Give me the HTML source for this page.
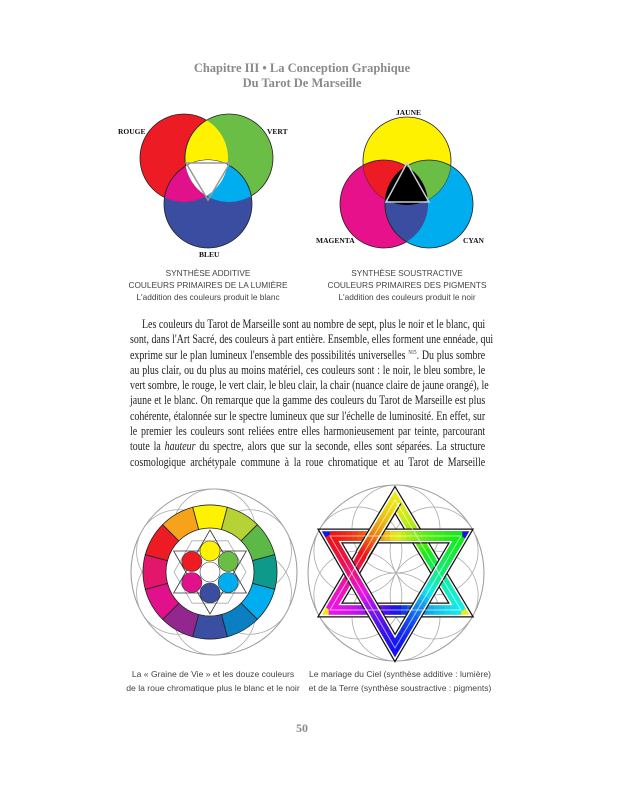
<!DOCTYPE html>
<html><head><meta charset="utf-8">
<style>
html,body{margin:0;padding:0;background:#fff;}
body{width:622px;height:800px;position:relative;overflow:hidden;font-family:"Liberation Serif",serif;}
.t{position:absolute;white-space:nowrap;}
.title{left:0;width:604px;text-align:center;color:#8a8a8a;font-weight:bold;font-size:12.5px;}
.lab{font-family:"Liberation Serif",serif;font-weight:bold;font-size:7.5px;color:#111;}
.cap{font-family:"Liberation Sans",sans-serif;font-size:8.3px;color:#444;text-align:center;width:200px;}
.body{position:absolute;left:130px;width:444px;font-size:12.4px;color:#222;transform:scaleX(0.8);transform-origin:0 0;}
.body div{height:15.3px;line-height:15.3px;text-align:justify;text-align-last:justify;white-space:nowrap;}
sup{line-height:0;font-size:6px;vertical-align:5px;}
</style></head><body>
<div class="t title" style="top:61px">Chapitre III • La Conception Graphique</div>
<div class="t title" style="top:76px">Du Tarot De Marseille</div>

<svg width="622" height="800" style="position:absolute;left:0;top:0">
<defs>
<clipPath id="cR"><circle cx="184" cy="158" r="44"/></clipPath>
<clipPath id="cG"><circle cx="229" cy="158" r="44"/></clipPath>
<clipPath id="cB"><circle cx="208" cy="204" r="44"/></clipPath>
<clipPath id="cY"><circle cx="407" cy="161" r="44"/></clipPath>
<clipPath id="cM"><circle cx="384" cy="204" r="44"/></clipPath>
<clipPath id="cC"><circle cx="429" cy="204" r="44"/></clipPath>
</defs>
<g stroke="#222" stroke-width="0.8">
<circle cx="184" cy="158" r="44" fill="#ed1c24"/>
<circle cx="229" cy="158" r="44" fill="#6abd45"/>
<circle cx="208" cy="204" r="44" fill="#3a4da0"/>
</g>
<circle cx="229" cy="158" r="44" fill="#fff200" clip-path="url(#cR)" stroke="#222" stroke-width="0.8"/>
<circle cx="208" cy="204" r="44" fill="#e0118a" clip-path="url(#cR)" stroke="#222" stroke-width="0.8"/>
<circle cx="208" cy="204" r="44" fill="#00aeef" clip-path="url(#cG)" stroke="#222" stroke-width="0.8"/>
<g clip-path="url(#cR)"><circle cx="208" cy="204" r="44" fill="#fff" clip-path="url(#cG)"/></g>
<polygon points="186,163 230,163 208,200" fill="none" stroke="#999" stroke-width="1.5"/>
<g stroke="#222" stroke-width="0.8">
<circle cx="384" cy="204" r="44" fill="#e8118c"/>
<circle cx="429" cy="204" r="44" fill="#00aeef"/>
<circle cx="407" cy="161" r="44" fill="#fff200"/>
</g>
<circle cx="384" cy="204" r="44" fill="#ed1c24" clip-path="url(#cY)" stroke="#222" stroke-width="0.8"/>
<circle cx="429" cy="204" r="44" fill="#6abd45" clip-path="url(#cY)" stroke="#222" stroke-width="0.8"/>
<circle cx="429" cy="204" r="44" fill="#3a4da0" clip-path="url(#cM)" stroke="#222" stroke-width="0.8"/>
<g clip-path="url(#cY)"><circle cx="429" cy="204" r="44" fill="#000" clip-path="url(#cM)"/></g>
<polygon points="407,163 386,202 429,202" fill="none" stroke="#ccc" stroke-width="1.5"/>
<g id="bottom"></g>
</svg>

<div class="t lab" style="left:118px;top:127px">ROUGE</div>
<div class="t lab" style="left:267px;top:127px">VERT</div>
<div class="t lab" style="left:199px;top:250px">BLEU</div>
<div class="t lab" style="left:396px;top:108px">JAUNE</div>
<div class="t lab" style="left:316px;top:236px">MAGENTA</div>
<div class="t lab" style="left:463px;top:236px">CYAN</div>

<div class="t cap" style="left:108px;top:268px">SYNTHÈSE ADDITIVE</div>
<div class="t cap" style="left:108px;top:280px">COULEURS PRIMAIRES DE LA LUMIÈRE</div>
<div class="t cap" style="left:108px;top:292px">L'addition des couleurs produit le blanc</div>
<div class="t cap" style="left:307px;top:268px">SYNTHÈSE SOUSTRACTIVE</div>
<div class="t cap" style="left:307px;top:280px">COULEURS PRIMAIRES DES PIGMENTS</div>
<div class="t cap" style="left:307px;top:292px">L'addition des couleurs produit le noir</div>

<div class="body" style="top:317px">
<div style="padding-left:15px">Les couleurs du Tarot de Marseille sont au nombre de sept, plus le noir et le blanc, qui</div>
<div>sont, dans l'Art Sacré, des couleurs à part entière. Ensemble, elles forment une ennéade, qui</div>
<div>exprime sur le plan lumineux l'ensemble des possibilités universelles <sup>N15</sup>. Du plus sombre</div>
<div>au plus clair, ou du plus au moins matériel, ces couleurs sont : le noir, le bleu sombre, le</div>
<div>vert sombre, le rouge, le vert clair, le bleu clair, la chair (nuance claire de jaune orangé), le</div>
<div>jaune et le blanc. On remarque que la gamme des couleurs du Tarot de Marseille est plus</div>
<div>cohérente, étalonnée sur le spectre lumineux que sur l'échelle de luminosité. En effet, sur</div>
<div>le premier les couleurs sont reliées entre elles harmonieusement par teinte, parcourant</div>
<div>toute la <i>hauteur</i> du spectre, alors que sur la seconde, elles sont séparées. La structure</div>
<div>cosmologique archétypale commune à la roue chromatique et au Tarot de Marseille</div>
</div>

<div class="t cap" style="left:113px;top:669px;font-size:8.6px">La « Graine de Vie » et les douze couleurs</div>
<div class="t cap" style="left:113px;top:683px;font-size:8.6px">de la roue chromatique plus le blanc et le noir</div>
<div class="t cap" style="left:300px;top:669px;font-size:8.6px">Le mariage du Ciel (synthèse additive : lumière)</div>
<div class="t cap" style="left:300px;top:683px;font-size:8.6px">et de la Terre (synthèse soustractive : pigments)</div>
<div class="t" style="left:296px;top:721px;color:#8a8a8a;font-weight:bold;font-size:12px">50</div>

<script>
var ns="http://www.w3.org/2000/svg",g=document.getElementById("bottom");
function el(t,a){var e=document.createElementNS(ns,t);for(var k in a)e.setAttribute(k,a[k]);g.appendChild(e);return e;}
function flower(cx,cy,R){
 el("circle",{cx:cx,cy:cy,r:R,fill:"none",stroke:"#999","stroke-width":1});
 var r=R/2;
 el("circle",{cx:cx,cy:cy,r:r,fill:"none",stroke:"#aaa","stroke-width":0.8});
 for(var i=0;i<6;i++){var a=Math.PI/3*i+Math.PI/2;
  el("circle",{cx:cx+r*Math.cos(a),cy:cy-r*Math.sin(a),r:r,fill:"none",stroke:"#aaa","stroke-width":0.8});}
}
function P(cx,cy,r,a){return [cx+r*Math.sin(a),cy-r*Math.cos(a)];}
var cx=210,cy=572;
flower(214,572,83);
el("circle",{cx:cx,cy:cy,r:67,fill:"#fff"});
var cols=["#fff200","#b5d334","#5db947","#0e9a8a","#00aeef","#0a7fc1","#3a4fa2","#92278f","#e0118a","#e2176b","#ed1c24","#f7a21b"];
for(var i=0;i<12;i++){
 var a0=(i-0.5)*Math.PI/6,a1=(i+0.5)*Math.PI/6;
 var p=[P(cx,cy,67,a0),P(cx,cy,67,a1),P(cx,cy,44,a1),P(cx,cy,44,a0)];
 el("path",{d:"M"+p[0]+" A67 67 0 0 1 "+p[1]+" L"+p[2]+" A44 44 0 0 0 "+p[3]+"Z",fill:cols[i],stroke:"#222","stroke-width":0.8});
}
function tri(cx,cy,r,rot,attrs){var s="";for(var k=0;k<3;k++){var q=P(cx,cy,r,rot+k*2*Math.PI/3);s+=q[0]+","+q[1]+" ";}attrs.points=s;return el("polygon",attrs);}
el("polygon",{points:(function(){var s="";for(var k=0;k<6;k++){var q=P(cx,cy,36,k*Math.PI/3+Math.PI/6);s+=q+" ";}return s;})(),fill:"none",stroke:"#aaa","stroke-width":0.8});
tri(cx,cy,42,0,{fill:"none",stroke:"#333","stroke-width":0.8});
tri(cx,cy,42,Math.PI,{fill:"none",stroke:"#333","stroke-width":0.8});
var sc=["#fff200","#6abd45","#00aeef","#3a4da0","#e0118a","#ed1c24"];
el("circle",{cx:cx,cy:cy,r:10,fill:"#fff",stroke:"#333","stroke-width":0.6});
for(var i=0;i<6;i++){var q=P(cx,cy,21,i*Math.PI/3);
 el("circle",{cx:q[0],cy:q[1],r:10,fill:sc[i],stroke:"#333","stroke-width":0.6});}
var sx=396,sy=573;
flower(sx,sy,88);
function hue(x,y){var a=Math.atan2(x-sx,-(y-sy))*180/Math.PI;if(a<0)a+=360;return "hsl("+((60+a)%360)+",85%,50%)";}
function band(pts){
 var s=pts.map(function(p){return p.join(",")}).join(" ");
 el("polygon",{points:s,fill:"none",stroke:"#111","stroke-width":15,"stroke-linejoin":"miter"});
 el("polygon",{points:s,fill:"none",stroke:"#fff","stroke-width":12.5,"stroke-linejoin":"miter"});
 el("polygon",{points:s,fill:"none",stroke:hue(pts[0][0],pts[0][1]),"stroke-width":9.5,"stroke-linejoin":"miter"});
 segs(pts,0,3);
}
function segs(pts,from,to){
 for(var e=from;e<to;e++){var a=pts[e%3],b=pts[(e+1)%3];var N=24;
  for(var k=0;k<N;k++){var t0=k/N,t1=(k+1)/N;
   var x0=a[0]+(b[0]-a[0])*t0,y0=a[1]+(b[1]-a[1])*t0,x1=a[0]+(b[0]-a[0])*(t1+0.01),y1=a[1]+(b[1]-a[1])*(t1+0.01);
   el("line",{x1:x0,y1:y0,x2:x1,y2:y1,stroke:hue((x0+x1)/2,(y0+y1)/2),"stroke-width":9.5});}}
}
var up=[[395,500],[461,610],[330,610]], dn=[[395,648],[330,536],[461,536]];
band(up); band(dn);
var a=[395,500],b=[362,555];
el("line",{x1:a[0],y1:a[1],x2:b[0],y2:b[1],stroke:"#111","stroke-width":15});
el("line",{x1:a[0],y1:a[1],x2:b[0],y2:b[1],stroke:"#fff","stroke-width":12.5});
segs([a,b,b],0,1);
el("polygon",{points:"395,500 461,610 330,610",fill:"none",stroke:"#fff","stroke-width":1,"stroke-opacity":0.6});
el("polygon",{points:"395,648 330,536 461,536",fill:"none",stroke:"#fff","stroke-width":1,"stroke-opacity":0.6});
</script>
</body></html>
